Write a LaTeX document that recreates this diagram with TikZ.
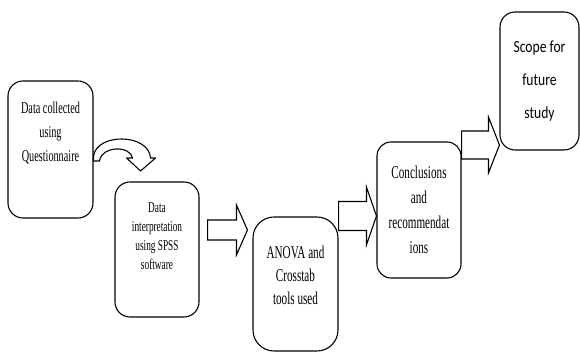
\documentclass[tikz,border=0pt]{standalone}
\usepackage{fontspec}
\newfontfamily\boxfont[FakeStretch=0.62]{Liberation Serif}
\newfontfamily\scopefont[FakeStretch=0.8]{Carlito}
\usepackage{tikz}
\usetikzlibrary{positioning, calc}
\tikzstyle{recNode} = [rectangle, minimum width=85pt, minimum height=136pt, align=center, rounded corners=14pt, draw=black, line width=1.1pt, inner sep=0pt]
\tikzstyle{recNodeC} = [recNode, font=\scopefont\fontsize{17}{33}\selectfont]
\tikzstyle{curveArrow} = [draw=black, line width=1.1pt, line join=round]
\tikzset{blockArrow/.style n args={3}{draw=black, line width=1.1pt,
  to path={let \p1=(\tikztostart), \p2=(\tikztotarget) in
    (\x1,\y1+#1) -- (\x2-#3,\y1+#1) -- (\x2-#3,\y1+#2) -- (\x2,\y1)
    -- (\x2-#3,\y1-#2) -- (\x2-#3,\y1-#1) -- (\x1,\y1-#1) -- cycle}}}

\begin{document}
\begin{tikzpicture}[x=1pt, y=1pt, node distance=120pt]
    \useasboundingbox (0,0) rectangle (580,352);

    \node (collect) [recNode, minimum height=137pt, rounded corners=15pt, font=\boxfont\fontsize{16.5}{24}\selectfont] at (50.5,202.5)
        {Data collected\\using\\Questionnaire\rule[-36pt]{0pt}{0pt}};
    \node (spss) [recNode, right of=collect, xshift=-13.5pt, yshift=-100pt, minimum width=84pt, minimum height=135pt, rounded corners=15pt, font=\boxfont\fontsize{15}{19}\selectfont]
        {Data\\interpretation\\using SPSS\\software\rule[-26pt]{0pt}{0pt}};
    \node (anova) [recNode, right of=spss, xshift=18.5pt, yshift=-34.5pt, minimum height=134pt, rounded corners=21pt, font=\boxfont\fontsize{18}{23}\selectfont]
        {ANOVA and\\Crosstab\\tools used\rule[-18pt]{0pt}{0pt}};
    \node (concl) [recNode, right of=anova, xshift=3.5pt, yshift=74pt, minimum width=84pt, font=\boxfont\fontsize{18}{25}\selectfont]
        {Conclusions\\and\\recommendat\\ions};
    \node (scope) [recNodeC, right of=concl, xshift=0.5pt, yshift=129pt, minimum width=79pt, minimum height=138pt, rounded corners=15pt]
        {Scope for\\future\\study};

    % curved arrow out of the first box
    \draw [curveArrow, shift={(collect.east)}] (0,-6.5) .. controls (3,16.5) and (55,16.5) .. (57,-8.5)
        -- (62,-8.5) -- (47,-21.5) -- (33,-8.5) -- (39,-8.5)
        .. controls (37,4) and (8,4) .. (6,-11.5) -- (0,-11.5) -- cycle;

    \draw [blockArrow={10pt}{25pt}{11pt}] ($(spss.east)+(8,19.5)$) to ($(anova.west)+(-5,0)$);
    \draw [blockArrow={14.5pt}{29pt}{10pt}] ($(anova.east |- concl.west)+(0,-6)$) to (concl.west);
    \draw [blockArrow={14pt}{28pt}{11pt}] ($(concl.east)+(0,65)$) to (scope.west);
\end{tikzpicture}
\end{document}
